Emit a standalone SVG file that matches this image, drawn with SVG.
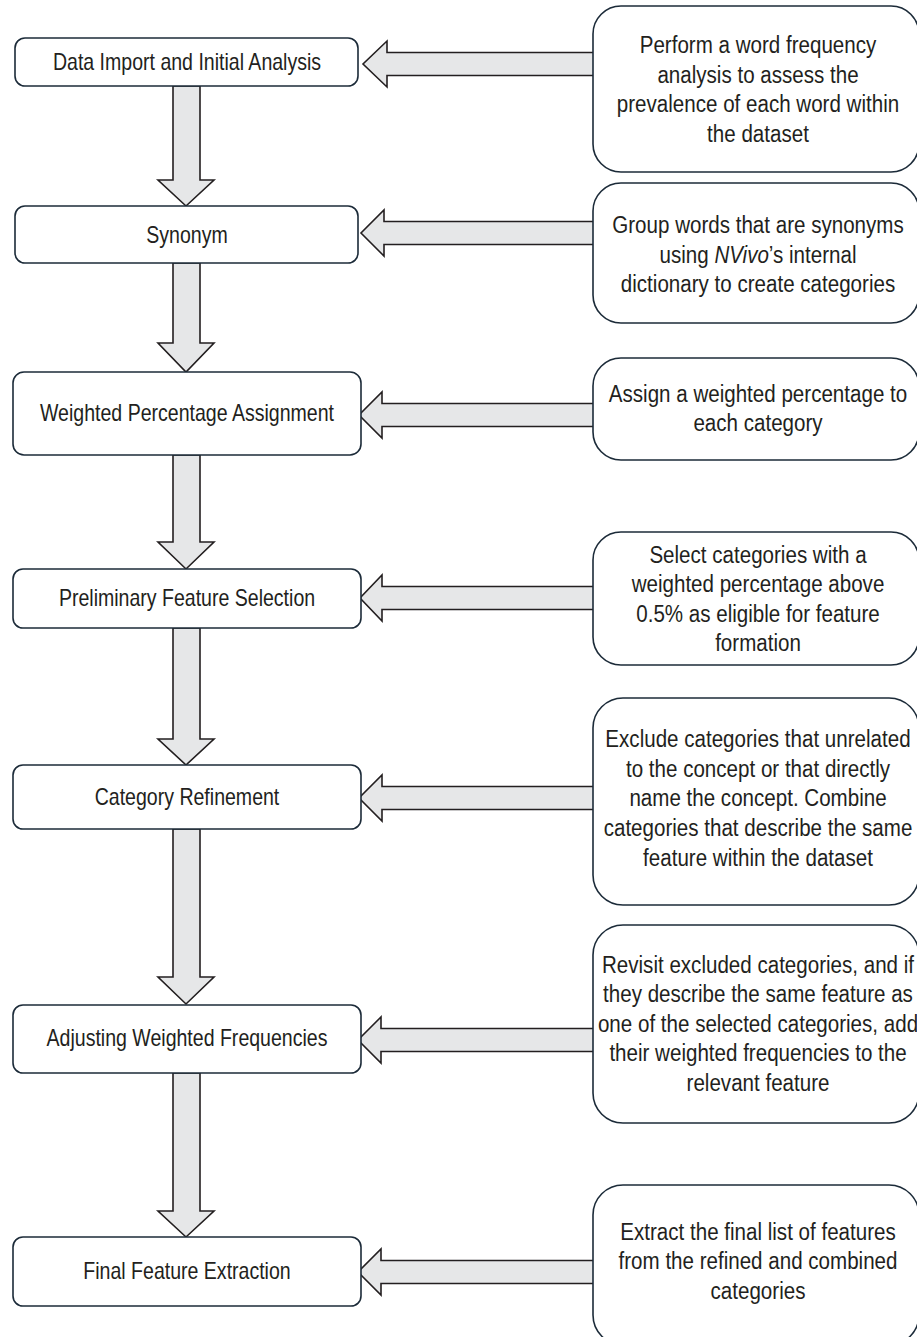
<svg xmlns="http://www.w3.org/2000/svg" width="917" height="1337" viewBox="0 0 917 1337">
  <style>
    .step { fill: #ffffff; stroke: #1c2b39; stroke-width: 1.6; }
    .note { fill: #ffffff; stroke: #1c2b39; stroke-width: 1.6; }
    .arrow { fill: #e6e7e8; stroke: #231f20; stroke-width: 1.6; stroke-linejoin: miter; }
    .lbl { font-family: "Liberation Sans", Arial, sans-serif; font-size: 23px; fill: #231f20; text-anchor: middle; }
    .txt { font-family: "Liberation Sans", Arial, sans-serif; font-size: 24.5px; fill: #231f20; text-anchor: middle; }
  </style>
  <rect width="917" height="1337" fill="#ffffff"/>

  <!-- connectors: block arrows between steps and from notes to steps -->
  <g id="connectors">
    <!-- downward arrows -->
    <polygon class="arrow" points="173,86 200,86 200,180 214,180 186,206 158,180 173,180"/>
    <polygon class="arrow" points="173,263 200,263 200,343 214,343 186,372 158,343 173,343"/>
    <polygon class="arrow" points="173,455 200,455 200,542 214,542 186,569 158,542 173,542"/>
    <polygon class="arrow" points="173,628 200,628 200,739 214,739 186,765 158,739 173,739"/>
    <polygon class="arrow" points="173,829 200,829 200,977 214,977 186,1004 158,977 173,977"/>
    <polygon class="arrow" points="173,1073 200,1073 200,1211 214,1211 186,1237 158,1211 173,1211"/>
    <!-- leftward arrows -->
    <polygon class="arrow" points="594,52.5 387,52.5 387,41 363,64 387,87 387,75.5 594,75.5"/>
    <polygon class="arrow" points="594,221.5 384,221.5 384,210 361,233 384,256 384,244.5 594,244.5"/>
    <polygon class="arrow" points="594,403.5 382,403.5 382,392 359,415 382,438 382,426.5 594,426.5"/>
    <polygon class="arrow" points="594,586.5 382,586.5 382,575 360,598 382,621 382,609.5 594,609.5"/>
    <polygon class="arrow" points="594,786.5 382,786.5 382,775 359,798 382,821 382,809.5 594,809.5"/>
    <polygon class="arrow" points="594,1028.5 381,1028.5 381,1017 358,1040 381,1063 381,1051.5 594,1051.5"/>
    <polygon class="arrow" points="594,1260.5 381,1260.5 381,1249 358,1272 381,1295 381,1283.5 594,1283.5"/>
  </g>

  <!-- process steps -->
  <g id="step-import">
    <rect class="step" x="15" y="38" width="343" height="48" rx="10"/>
    <text class="lbl" transform="translate(187 70) scale(0.85 1)">Data Import and Initial Analysis</text>
  </g>
  <g id="step-synonym">
    <rect class="step" x="15" y="206" width="343" height="57" rx="10"/>
    <text class="lbl" transform="translate(187 243) scale(0.85 1)">Synonym</text>
  </g>
  <g id="step-weighted">
    <rect class="step" x="13" y="372" width="348" height="83" rx="11"/>
    <text class="lbl" transform="translate(187 421) scale(0.85 1)">Weighted Percentage Assignment</text>
  </g>
  <g id="step-preliminary">
    <rect class="step" x="13" y="569" width="348" height="59" rx="10"/>
    <text class="lbl" transform="translate(187 606) scale(0.85 1)">Preliminary Feature Selection</text>
  </g>
  <g id="step-refinement">
    <rect class="step" x="13" y="765" width="348" height="64" rx="10"/>
    <text class="lbl" transform="translate(187 805) scale(0.85 1)">Category Refinement</text>
  </g>
  <g id="step-adjusting">
    <rect class="step" x="13" y="1005" width="348" height="68" rx="10"/>
    <text class="lbl" transform="translate(187 1046) scale(0.85 1)">Adjusting Weighted Frequencies</text>
  </g>
  <g id="step-final">
    <rect class="step" x="13" y="1237" width="348" height="69" rx="10"/>
    <text class="lbl" transform="translate(187 1279) scale(0.85 1)">Final Feature Extraction</text>
  </g>

  <!-- description notes -->
  <g id="note-import">
    <rect class="note" x="593" y="6" width="326" height="166" rx="28"/>
    <g transform="translate(758 0) scale(0.84 1)">
      <text class="txt" x="0" y="53.5">Perform a word frequency</text>
      <text class="txt" x="0" y="83">analysis to assess the</text>
      <text class="txt" x="0" y="112.5">prevalence of each word within</text>
      <text class="txt" x="0" y="142">the dataset</text>
    </g>
  </g>
  <g id="note-synonym">
    <rect class="note" x="593" y="183" width="326" height="140" rx="28"/>
    <g transform="translate(758 0) scale(0.84 1)">
      <text class="txt" x="0" y="233.5">Group words that are synonyms</text>
      <text class="txt" x="0" y="263">using <tspan font-style="italic">NVivo</tspan>’s internal</text>
      <text class="txt" x="0" y="292.5">dictionary to create categories</text>
    </g>
  </g>
  <g id="note-weighted">
    <rect class="note" x="593" y="358" width="326" height="102" rx="28"/>
    <g transform="translate(758 0) scale(0.84 1)">
      <text class="txt" x="0" y="402">Assign a weighted percentage to</text>
      <text class="txt" x="0" y="431">each category</text>
    </g>
  </g>
  <g id="note-preliminary">
    <rect class="note" x="593" y="532" width="326" height="133" rx="28"/>
    <g transform="translate(758 0) scale(0.84 1)">
      <text class="txt" x="0" y="563">Select categories with a</text>
      <text class="txt" x="0" y="592.5">weighted percentage above</text>
      <text class="txt" x="0" y="622">0.5% as eligible for feature</text>
      <text class="txt" x="0" y="651.5">formation</text>
    </g>
  </g>
  <g id="note-refinement">
    <rect class="note" x="593" y="698" width="326" height="207" rx="30"/>
    <g transform="translate(758 0) scale(0.84 1)">
      <text class="txt" x="0" y="747">Exclude categories that unrelated</text>
      <text class="txt" x="0" y="776.75">to the concept or that directly</text>
      <text class="txt" x="0" y="806.5">name the concept. Combine</text>
      <text class="txt" x="0" y="836.25">categories that describe the same</text>
      <text class="txt" x="0" y="866">feature within the dataset</text>
    </g>
  </g>
  <g id="note-adjusting">
    <rect class="note" x="593" y="925" width="326" height="198" rx="30"/>
    <g transform="translate(758 0) scale(0.84 1)">
      <text class="txt" x="0" y="973">Revisit excluded categories, and if</text>
      <text class="txt" x="0" y="1002.5">they describe the same feature as</text>
      <text class="txt" x="0" y="1032">one of the selected categories, add</text>
      <text class="txt" x="0" y="1061.5">their weighted frequencies to the</text>
      <text class="txt" x="0" y="1091">relevant feature</text>
    </g>
  </g>
  <g id="note-final">
    <rect class="note" x="593" y="1185" width="326" height="160" rx="30"/>
    <g transform="translate(758 0) scale(0.84 1)">
      <text class="txt" x="0" y="1240">Extract the final list of features</text>
      <text class="txt" x="0" y="1269.5">from the refined and combined</text>
      <text class="txt" x="0" y="1299">categories</text>
    </g>
  </g>
</svg>
